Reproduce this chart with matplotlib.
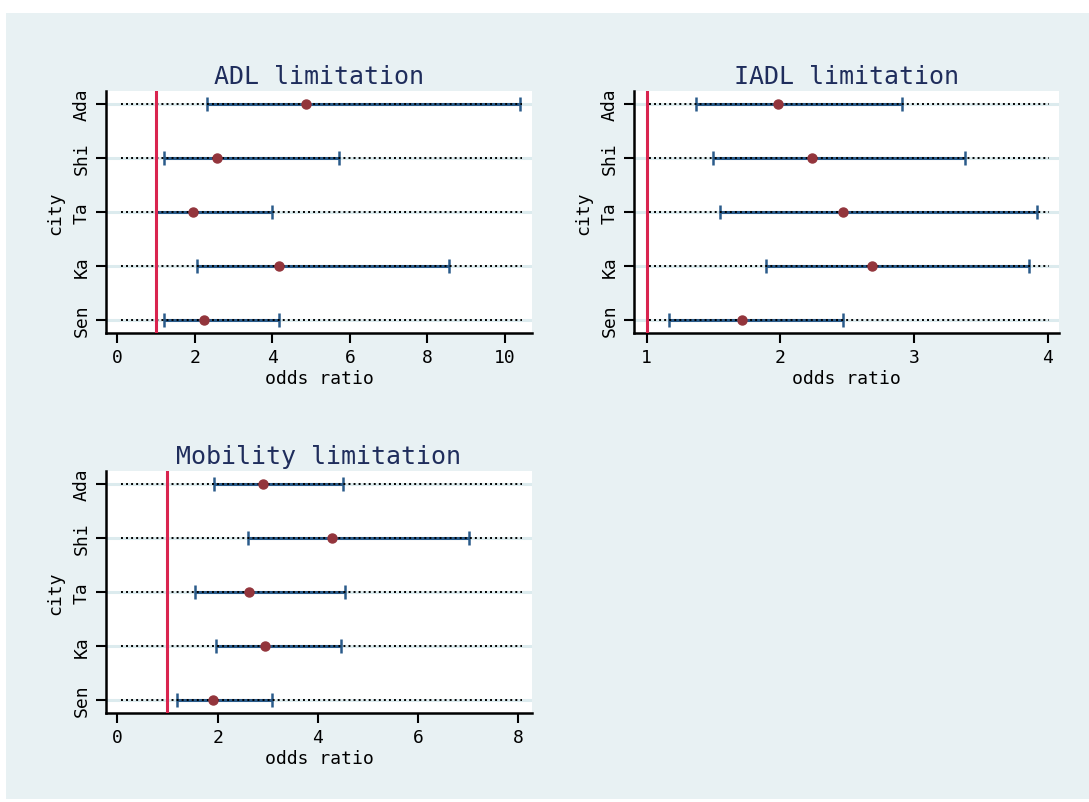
import matplotlib
matplotlib.use("Agg")
import matplotlib.pyplot as plt
import matplotlib.transforms as mtransforms
from matplotlib.patches import Rectangle

cities = ["Sen", "Ka", "Ta", "Shi", "Ada"]

adl_or = [2.24, 4.18, 1.96, 2.58, 4.86]
adl_lo = [1.21, 2.05, 0.99, 1.21, 2.31]
adl_hi = [4.17, 8.55, 3.98, 5.73, 10.39]

iadl_or = [1.71, 2.69, 2.47, 2.24, 1.98]
iadl_lo = [1.17, 1.89, 1.55, 1.50, 1.37]
iadl_hi = [2.47, 3.86, 3.92, 3.38, 2.91]

mob_or = [1.90, 2.95, 2.63, 4.28, 2.90]
mob_lo = [1.19, 1.97, 1.54, 2.61, 1.93]
mob_hi = [3.09, 4.46, 4.54, 7.02, 4.51]

titles = ["ADL limitation", "IADL limitation", "Mobility limitation"]
xticks_list = [[0, 2, 4, 6, 8, 10], [1, 2, 3, 4], [0, 2, 4, 6, 8]]
xlims = [(-0.29, 10.7), (0.905, 4.086), (-0.226, 8.27)]

W, H = 1089, 803
fig = plt.figure(figsize=(W / 100, H / 100), dpi=100, facecolor="white")
bg = "#e8f1f3"
fig.patches.append(Rectangle((6 / W, 3 / H), (W - 6) / W, (H - 17) / H,
                             transform=fig.transFigure, facecolor=bg,
                             edgecolor="none", zorder=-10))

font = "DejaVu Sans Mono"
boxes = [(106, 92, 532, 334), (634, 92, 1059, 334), (106, 472, 532, 714)]
data = [(adl_or, adl_lo, adl_hi), (iadl_or, iadl_lo, iadl_hi), (mob_or, mob_lo, mob_hi)]

for (l, t, r, b), (orv, lo, hi), title, xt, xl in zip(boxes, data, titles, xticks_list, xlims):
    ax = fig.add_axes([l / W, 1 - b / H, (r - l) / W, (b - t) / H])
    ax.set_facecolor("white")
    ypos = list(range(1, len(cities) + 1))
    trans = mtransforms.blended_transform_factory(ax.transAxes, ax.transData)
    for y in ypos:
        ax.plot([0, 1], [y, y], transform=trans, color="#dcebee", lw=2.2, zorder=1)
    errl = [o - a for o, a in zip(orv, lo)]
    errh = [c - o for o, c in zip(orv, hi)]
    ax.errorbar(orv, ypos, xerr=[errl, errh], fmt="none", ecolor="#2a5b8a",
                elinewidth=2.2, capsize=5, capthick=1.8, zorder=2)
    for y in ypos:
        ax.plot([0.035, 0.977], [y, y], transform=trans, color="black", lw=1.4,
                linestyle=(0, (1, 1.6)), zorder=3)
    ax.plot(orv, ypos, "o", color="#93353c", markersize=6.5, zorder=5)
    ax.axvline(1, color="#d9244f", lw=2.2, zorder=4)
    ax.set_xlim(*xl)
    ax.set_ylim(0.76, 5.24)
    ax.set_xticks(xt)
    ax.set_xticklabels([str(v) for v in xt], fontsize=13, family=font)
    ax.set_yticks(ypos)
    ax.set_yticklabels(cities, fontsize=13, family=font, rotation=90, va="center")
    for s in ["top", "right"]:
        ax.spines[s].set_visible(False)
    for s in ["left", "bottom"]:
        ax.spines[s].set_linewidth(1.8)
        ax.spines[s].set_color("black")
    ax.tick_params(axis="both", length=7, width=1.5, color="black", pad=4)
    ax.set_xlabel("odds ratio", fontsize=13, family=font, labelpad=2)
    ax.set_ylabel("city", fontsize=13, family=font, labelpad=6)
    ax.set_title(title, fontsize=18, family=font, color="#1f2d5c", pad=6)

fig.savefig("out.png", dpi=100, facecolor="white")
